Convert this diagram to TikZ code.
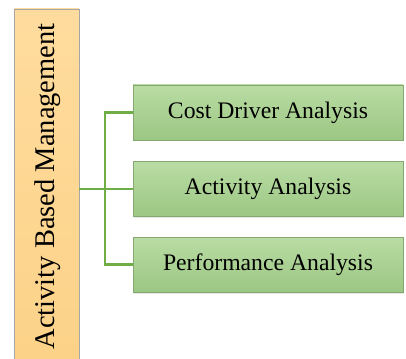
\documentclass[tikz,border=0pt]{standalone}
\usepackage{fontspec}
\setmainfont{Liberation Serif}
\usetikzlibrary{shadows}
\definecolor{orangetop}{HTML}{FFDC9E}
\definecolor{orangebot}{HTML}{FCD288}
\definecolor{greentop}{HTML}{B9DCA4}
\definecolor{greenbot}{HTML}{9CC783}
\definecolor{greenedge}{HTML}{86A870}
\definecolor{connector}{HTML}{6FAE46}
\begin{document}
\begin{tikzpicture}[x=1pt,y=-1pt,
  headbox/.style={draw=gray!70, line width=0.8pt, top color=orangetop, bottom color=orangebot,
    minimum width=65pt, minimum height=351pt, inner sep=0pt},
  headtext/.style={rotate=90, font=\fontsize{28.5pt}{30pt}\selectfont, inner sep=0pt},
  itembox/.style={draw=greenedge, line width=0.8pt, top color=greentop, bottom color=greenbot,
    minimum width=270pt, minimum height=55pt, inner sep=0pt,
    font=\fontsize{23.7pt}{26pt}\selectfont,
    drop shadow={opacity=0.2, shadow xshift=1pt, shadow yshift=-1.5pt}},
  conn/.style={draw=connector, line width=2.8pt}]
  \useasboundingbox (0,0) rectangle (406,358);
  \clip (0,0) rectangle (406,358);
  \fill[white] (0,0) rectangle (406,358);

  % main box with vertical title
  \node[headbox] (abm) at (46.5,184.5) {};
  \node[headtext] (abmtext) at (47.5,186.5) {Activity Based Management};

  % sub-activities
  \node[itembox] (c1) at (268,112.5) {Cost Driver Analysis};
  \node[itembox] (c2) at (268,189) {Activity Analysis};
  \node[itembox] (c3) at (268,264.5) {Performance Analysis};

  % bracket connectors
  \coordinate (trunk) at (105,0);
  \draw[conn] (c1.west) -- (trunk |- c1.west) -- (trunk |- c3.west) -- (c3.west);
  \draw[conn] (abm.east |- c2.west) -- (c2.west);
\end{tikzpicture}
\end{document}
